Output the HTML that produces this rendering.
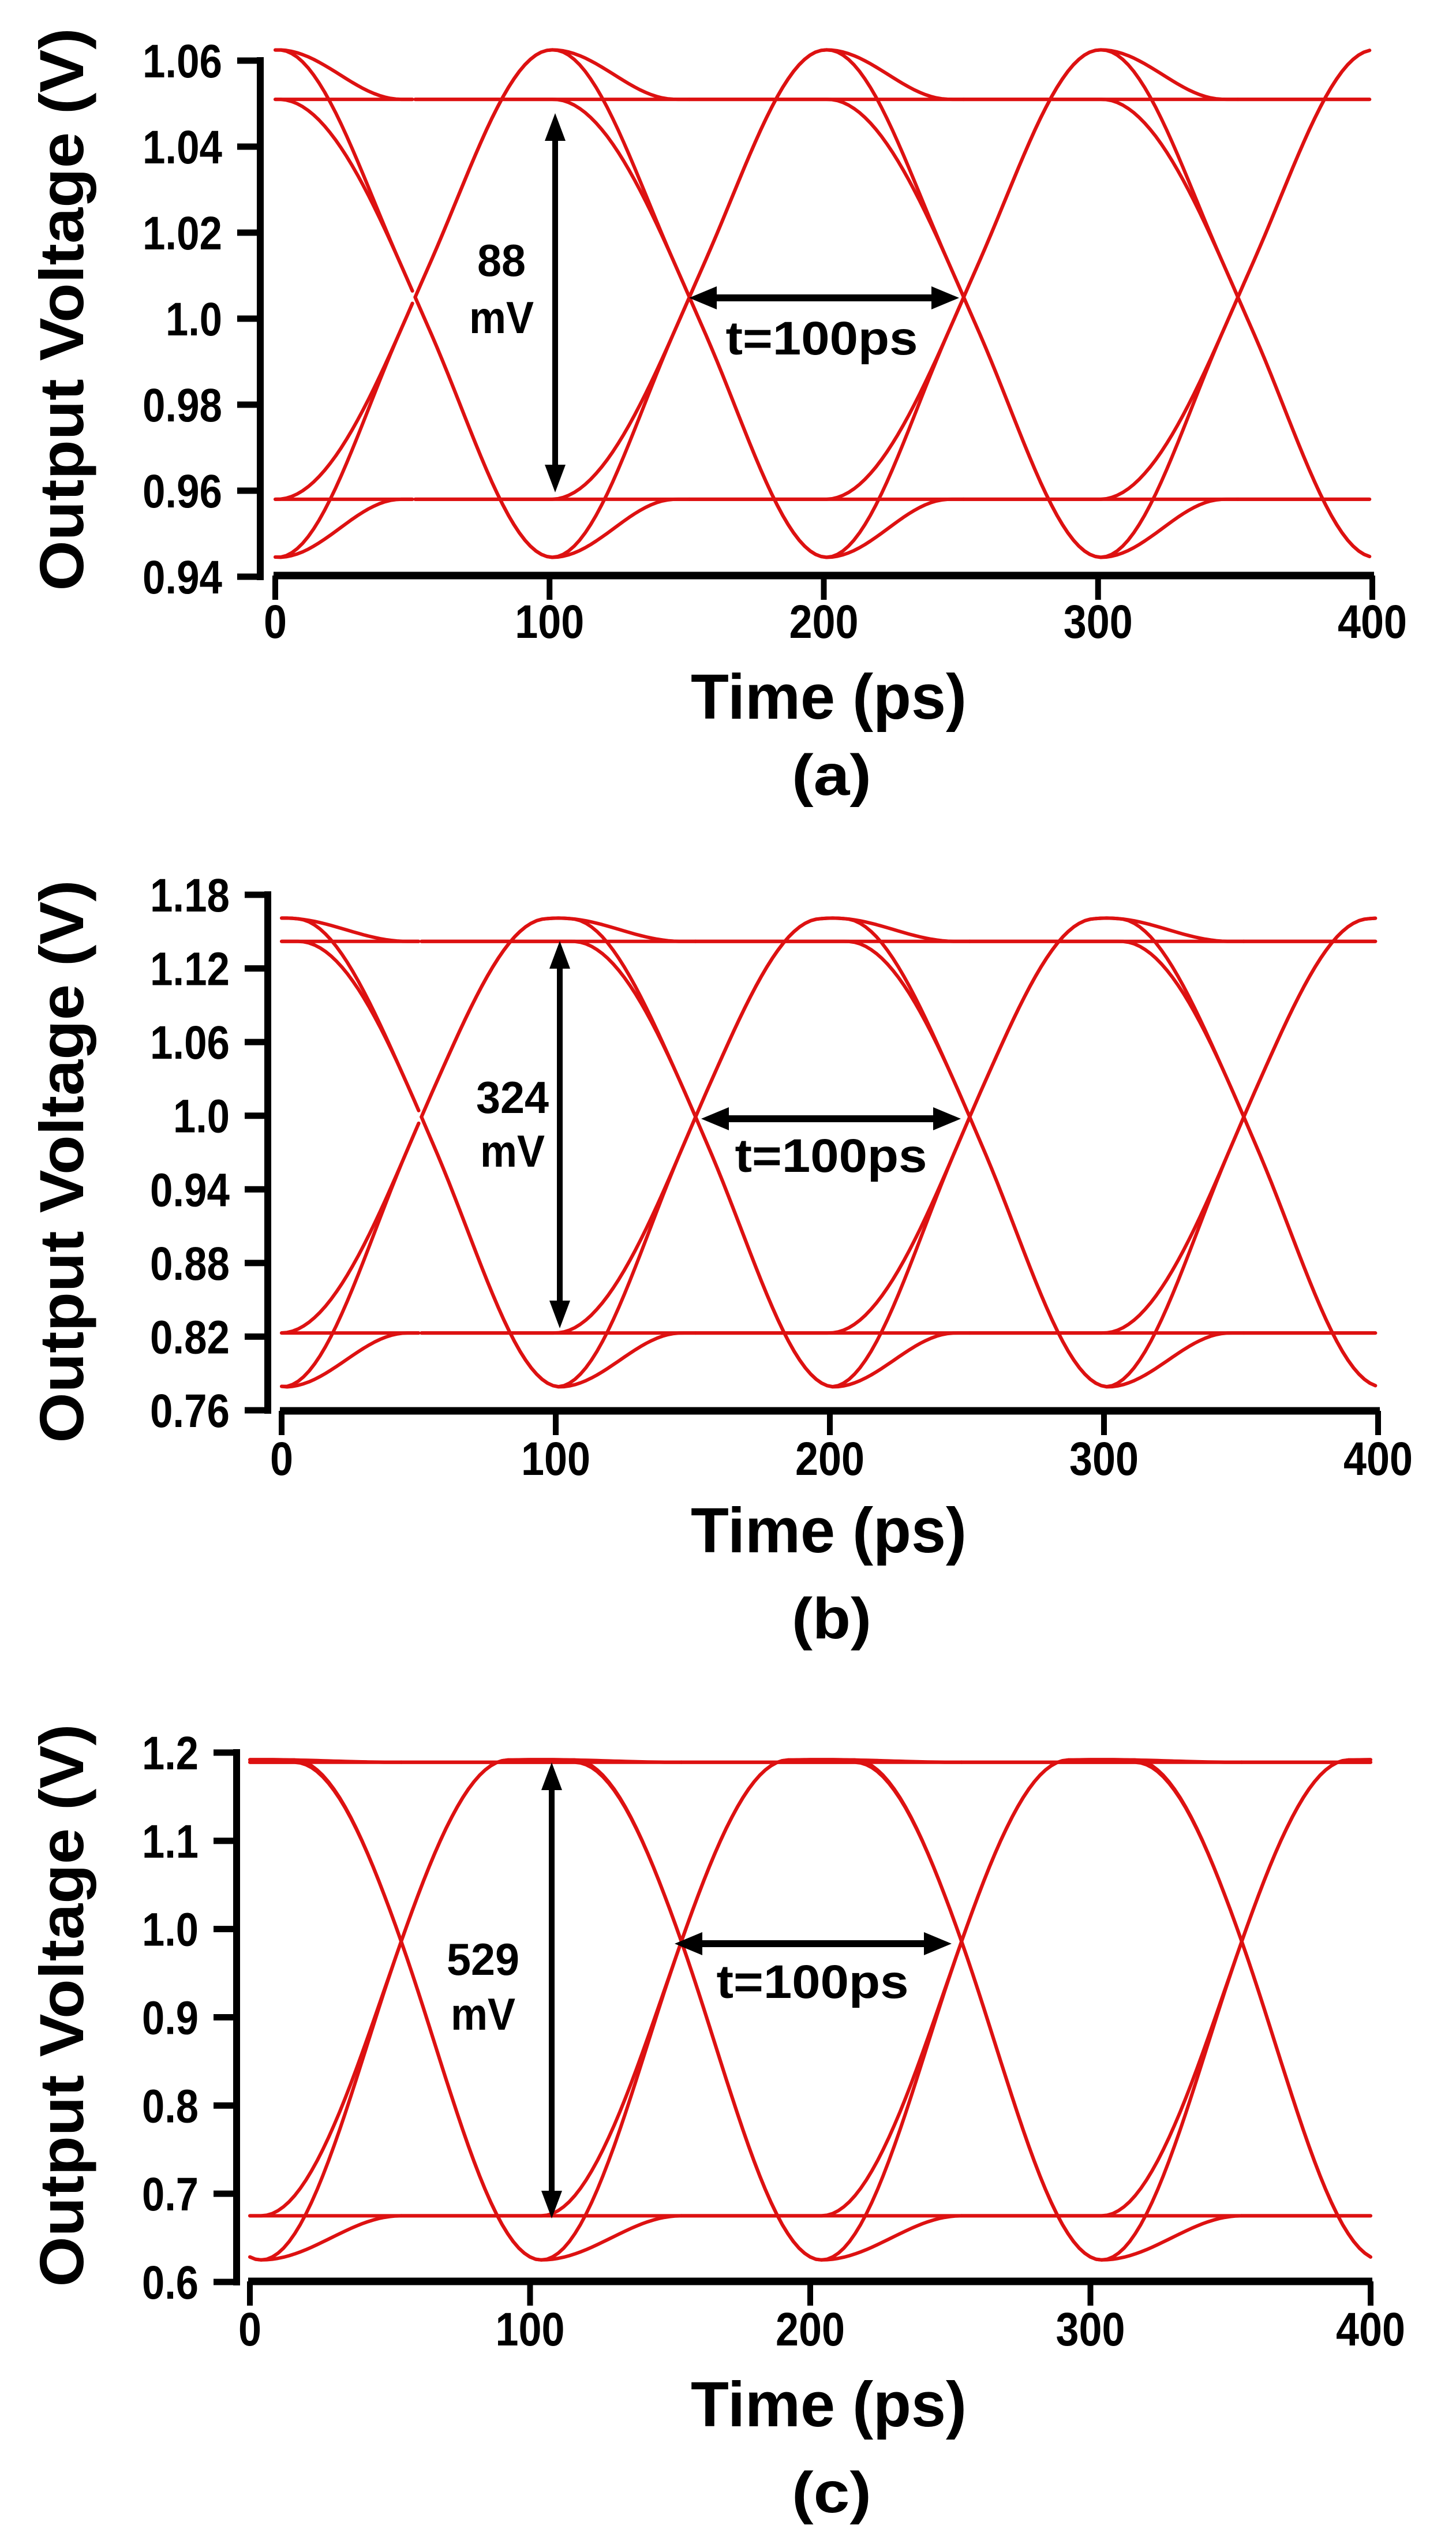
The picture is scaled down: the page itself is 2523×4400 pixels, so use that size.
<!DOCTYPE html>
<html><head><meta charset="utf-8">
<style>
html,body{margin:0;padding:0;background:#fff;}
svg{display:block;}
text{font-family:"Liberation Sans",sans-serif;font-weight:bold;fill:#000;}
</style></head>
<body>
<svg id="fig" width="2523" height="4400" viewBox="0 0 2523 4400" xmlns="http://www.w3.org/2000/svg"></svg>
<script>
// ---- data ----
const xTickValues = [0, 100, 200, 300, 400];
const xTickLabels = ["0", "100", "200", "300", "400"];
const yTicksA = [0.94, 0.96, 0.98, 1.0, 1.02, 1.04, 1.06];
const yLabelsA = ["0.94", "0.96", "0.98", "1.0", "1.02", "1.04", "1.06"];
const yTicksB = [0.76, 0.82, 0.88, 0.94, 1.0, 1.06, 1.12, 1.18];
const yLabelsB = ["0.76", "0.82", "0.88", "0.94", "1.0", "1.06", "1.12", "1.18"];
const yTicksC = [0.6, 0.7, 0.8, 0.9, 1.0, 1.1, 1.2];
const yLabelsC = ["0.6", "0.7", "0.8", "0.9", "1.0", "1.1", "1.2"];
const highLevel = [1.051, 1.142, 1.189];
const lowLevel = [0.958, 0.823, 0.675];
const peakHigh = [1.0625, 1.161, 1.192];
const peakLow = [0.9445, 0.779, 0.625];
const crossLevel = [1.005, 0.999, 0.986];
const crossTime = [51, 51, 54];
const eyeOpeningLabels = ["88", "324", "529"];
const panelLetters = ["(a)", "(b)", "(c)"];
const bitPatterns = ["000","001","010","011","100","101","110","111"];

// ---- layout (pixels / shape) ----
const layouts = [
  {ax:451, x0:477, x1:2378, yTop:105, yBot:999, yMin:0.94, yMax:1.06, xAxisY:997, tickLabY:1105, titleY:1245, letterY:1377, ytitleY:536,
   vArrowX:962, vArrowY0:196, vArrowY1:853, mvX:869, numY:478, mvY:577, hArrowY:516, hArrowX0:1194, hArrowX1:1662, tX:1424, tY:614, edgeW:50, bumpW:45, yTicks:yTicksA, yLabels:yLabelsA},
  {ax:464, x0:488, x1:2388, yTop:1550, yBot:2443, yMin:0.76, yMax:1.18, xAxisY:2444, tickLabY:2555, titleY:2689, letterY:2838, ytitleY:2012,
   vArrowX:970, vArrowY0:1630, vArrowY1:2301, mvX:888, numY:1928, mvY:2021, hArrowY:1938, hArrowX0:1215, hArrowX1:1665, tX:1440, tY:2030, edgeW:48, bumpW:45, yTicks:yTicksB, yLabels:yLabelsB},
  {ax:410, x0:433, x1:2375, yTop:3036, yBot:3953, yMin:0.6, yMax:1.2, xAxisY:3952, tickLabY:4063, titleY:4203, letterY:4352, ytitleY:3474,
   vArrowX:956, vArrowY0:3053, vArrowY1:3843, mvX:837, numY:3421, mvY:3516, hArrowY:3367, hArrowX0:1169, hArrowX1:1649, tX:1408, tY:3461, edgeW:44, bumpW:50, yTicks:yTicksC, yLabels:yLabelsC}
];

const NS = "http://www.w3.org/2000/svg";
const svg = document.getElementById("fig");
function mk(tag, attrs, parent) {
  const e = document.createElementNS(NS, tag);
  for (const k in attrs) e.setAttribute(k, attrs[k]);
  (parent || svg).appendChild(e);
  return e;
}
function stepS(t, w) {
  if (t <= -w) return 0;
  if (t >= w) return 1;
  return 0.5 + 0.5 * Math.sin(Math.PI * t / (2 * w));
}
function bump(t, w) {
  if (Math.abs(t) >= w) return 0;
  const c = Math.cos(Math.PI * t / (2 * w));
  return c * c;
}

layouts.forEach((L, p) => {
  const g = mk("g", {});
  
  
  const xs = v => L.x0 + v / 400 * (L.x1 - L.x0);
  const ys = v => L.yBot - (v - L.yMin) / (L.yMax - L.yMin) * (L.yBot - L.yTop);

  const traces = mk("g", {fill: "none", stroke: "#dd1111", "stroke-width": 6, "stroke-linejoin": "round", "stroke-linecap": "round"}, g);
  
  
  const hi = highLevel[p], lo = lowLevel[p], cr = crossLevel[p];
  const sw = hi - lo;
  const oUp = (peakHigh[p] - hi) / sw, oDown = (lo - peakLow[p]) / sw;
  const frac = Math.min(0.95, Math.max(0.05, (cr - lo) / sw));
  const w = L.edgeW;
  const delta = w * 2 / Math.PI * Math.asin(2 * frac - 1);
  function contrib(t, tb, from, to) {
    if (from === to) return 0;
    if (to > from) return sw * (stepS(t - (tb - delta), w) + oUp * bump(t - (tb + 50), L.bumpW));
    return -sw * (stepS(t - (tb + delta), w) + oDown * bump(t - (tb + 50), L.bumpW));
  }
  for (let j = -1; j <= 4; j++) {
    const tb0 = crossTime[p] + 100 * j, tb1 = tb0 + 100;
    const tA = Math.max(0, tb0), tB = Math.min(400, tb1);
    if (tB <= tA) continue;
    bitPatterns.forEach(pat => {
      const b = pat.split("").map(Number);
      let dstr = "";
      for (let t = tA; t <= tB + 0.001; t += 2) {
        const tt = Math.min(t, tB);
        const v = (b[0] ? hi : lo) + contrib(tt, tb0, b[0], b[1]) + contrib(tt, tb1, b[1], b[2]);
        dstr += (dstr ? "L" : "M") + xs(tt).toFixed(1) + " " + ys(v).toFixed(1);
      }
      const path = mk("path", {d: dstr}, traces);
      
      
    });
  }

  // y axis
  const yAxis = mk("line", {x1: L.ax, x2: L.ax, y1: L.yTop - 6, y2: L.yBot + 6, stroke: "#000", "stroke-width": 12}, g);
  
  
  L.yTicks.forEach((v, i) => {
    const y = ys(v);
    const tk = mk("line", {x1: L.ax - 40, x2: L.ax, y1: y, y2: y, stroke: "#000", "stroke-width": 11}, g);
    
    
    const lab = L.yLabels[i];
    const wd = lab.replace(".", "").length * 40 + 18;
    const tx = mk("text", {x: L.ax - 66, y: y + 29, "text-anchor": "end", "font-size": 82, textLength: wd, lengthAdjust: "spacingAndGlyphs"}, g);
    tx.textContent = lab;
    
    
  });
  // x axis
  const xAxis = mk("line", {x1: L.x0 - 3, x2: L.x1 + 3, y1: L.xAxisY, y2: L.xAxisY, stroke: "#000", "stroke-width": 13}, g);
  
  
  xTickValues.forEach((v, i) => {
    const x = xs(v);
    const tk = mk("line", {x1: x, x2: x, y1: L.xAxisY, y2: L.xAxisY + 42, stroke: "#000", "stroke-width": 10}, g);
    
    
    const lab = xTickLabels[i];
    const tx = mk("text", {x: x, y: L.tickLabY, "text-anchor": "middle", "font-size": 82, textLength: lab.length * 40, lengthAdjust: "spacingAndGlyphs"}, g);
    tx.textContent = lab;
    
    
  });
  // titles
  const xt = mk("text", {x: 1436, y: L.titleY, "text-anchor": "middle", "font-size": 110, textLength: 478, lengthAdjust: "spacingAndGlyphs"}, g);
  xt.textContent = "Time (ps)";
  
  
  const lt = mk("text", {x: 1441, y: L.letterY, "text-anchor": "middle", "font-size": 100, textLength: 138, lengthAdjust: "spacingAndGlyphs"}, g);
  lt.textContent = panelLetters[p];
  
  
  const yt = mk("text", {x: 0, y: 0, "text-anchor": "middle", "font-size": 108, textLength: 975, lengthAdjust: "spacingAndGlyphs",
    transform: "translate(144," + L.ytitleY + ") rotate(-90)"}, g);
  yt.textContent = "Output Voltage (V)";
  
  

  // vertical arrow
  const va = mk("g", {fill: "#000", stroke: "none"}, g);
  
  
  mk("rect", {x: L.vArrowX - 5, y: L.vArrowY0 + 40, width: 10, height: L.vArrowY1 - L.vArrowY0 - 80}, va);
  mk("polygon", {points: `${L.vArrowX},${L.vArrowY0} ${L.vArrowX - 18},${L.vArrowY0 + 48} ${L.vArrowX + 18},${L.vArrowY0 + 48}`}, va);
  mk("polygon", {points: `${L.vArrowX},${L.vArrowY1} ${L.vArrowX - 18},${L.vArrowY1 - 48} ${L.vArrowX + 18},${L.vArrowY1 - 48}`}, va);
  const n1 = mk("text", {x: L.mvX, y: L.numY, "text-anchor": "middle", "font-size": 78, textLength: eyeOpeningLabels[p].length * 42, lengthAdjust: "spacingAndGlyphs"}, g);
  n1.textContent = eyeOpeningLabels[p];
  
  
  const n2 = mk("text", {x: L.mvX, y: L.mvY, "text-anchor": "middle", "font-size": 78, textLength: 112, lengthAdjust: "spacingAndGlyphs"}, g);
  n2.textContent = "mV";
  
  

  // horizontal arrow
  const ha = mk("g", {fill: "#000", stroke: "none"}, g);
  
  
  mk("rect", {x: L.hArrowX0 + 40, y: L.hArrowY - 6, width: L.hArrowX1 - L.hArrowX0 - 80, height: 12}, ha);
  mk("polygon", {points: `${L.hArrowX0},${L.hArrowY} ${L.hArrowX0 + 48},${L.hArrowY - 20} ${L.hArrowX0 + 48},${L.hArrowY + 20}`}, ha);
  mk("polygon", {points: `${L.hArrowX1},${L.hArrowY} ${L.hArrowX1 - 48},${L.hArrowY - 20} ${L.hArrowX1 - 48},${L.hArrowY + 20}`}, ha);
  const tt = mk("text", {x: L.tX, y: L.tY, "text-anchor": "middle", "font-size": 82, textLength: 333, lengthAdjust: "spacingAndGlyphs"}, g);
  tt.textContent = "t=100ps";
  
  
});
</script>
</body></html>
